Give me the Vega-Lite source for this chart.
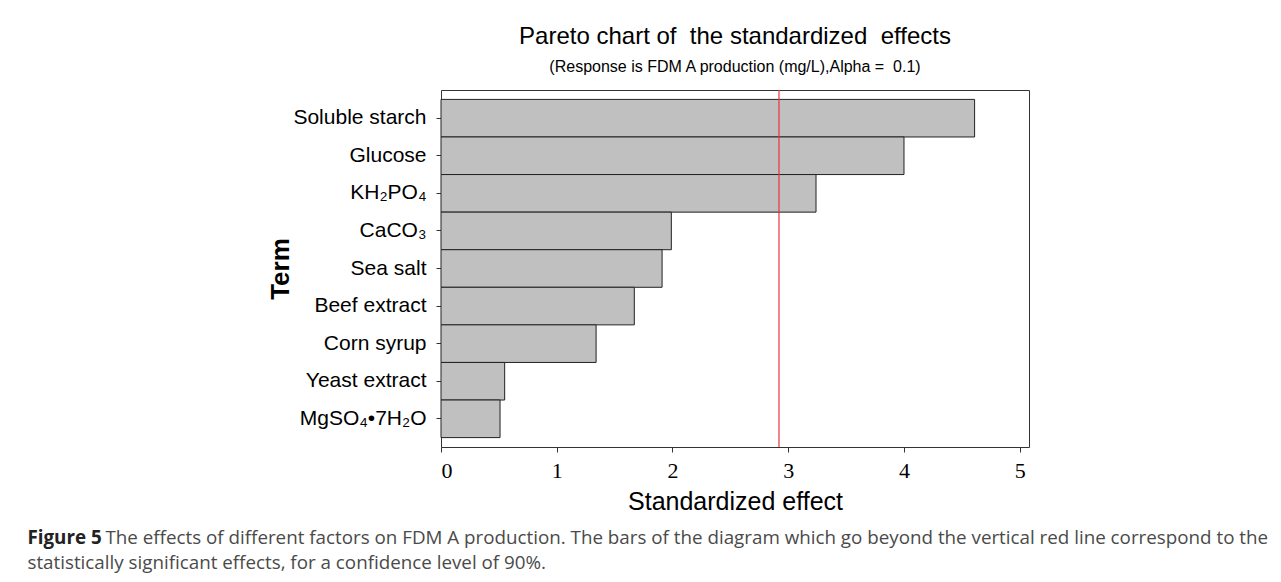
{
  "$schema": "https://vega.github.io/schema/vega-lite/v6.json",
  "background": "white",
  "autosize": {"type": "pad"},
  "padding": {"left": 27, "top": 24, "right": 5, "bottom": 5},
  "title": {
    "text": "Figure 5",
    "orient": "bottom",
    "anchor": "start",
    "frame": "bounds",
    "dx": -240,
    "offset": 14,
    "font": "Open Sans",
    "fontSize": 18.8,
    "fontWeight": "bold",
    "color": "#222222",
    "subtitle": [
      "\u200b\u00a0\u00a0\u00a0\u00a0\u00a0\u00a0\u00a0\u00a0\u00a0\u00a0\u00a0\u00a0\u00a0\u00a0\u00a0\u00a0The effects of different factors on FDM A production. The bars of the diagram which go beyond the vertical red line correspond to the",
      "statistically significant effects, for a confidence level of 90%."
    ],
    "subtitleFont": "Open Sans",
    "subtitleFontSize": 18.8,
    "subtitleColor": "#4a4a4a",
    "subtitlePadding": -18.8,
    "subtitleLineHeight": 25
  },
  "config": {
    "view": {"stroke": "#333333", "strokeWidth": 1},
    "axis": {"grid": false, "domain": false, "tickColor": "#333333", "tickSize": 5, "labelColor": "#000000", "titleColor": "#000000"}
  },
  "vconcat": [
    {
      "width": 588,
      "height": 357,
      "title": {
        "text": "Pareto chart of \u00a0the standardized \u00a0effects",
        "subtitle": "(Response is FDM A production (mg/L),Alpha = \u00a00.1)",
        "anchor": "middle",
        "font": "Liberation Sans",
        "fontSize": 24,
        "fontWeight": "normal",
        "color": "#000000",
        "subtitleFont": "Liberation Sans",
        "subtitleFontSize": 16,
        "subtitleColor": "#000000",
        "subtitlePadding": 10,
        "offset": 14
      },
      "layer": [
        {
          "data": {
            "values": [
              {"term": "Soluble starch", "effect": 4.61},
              {"term": "Glucose", "effect": 4.0},
              {"term": "KH₂PO₄", "effect": 3.24},
              {"term": "CaCO₃", "effect": 1.99},
              {"term": "Sea salt", "effect": 1.91},
              {"term": "Beef extract", "effect": 1.67},
              {"term": "Corn syrup", "effect": 1.34},
              {"term": "Yeast extract", "effect": 0.55},
              {"term": "MgSO₄•7H₂O", "effect": 0.51}
            ]
          },
          "mark": {"type": "bar", "fill": "#c0c0c0", "stroke": "#222222", "strokeWidth": 1},
          "encoding": {
            "y": {
              "field": "term",
              "type": "nominal",
              "sort": null,
              "scale": {"paddingInner": 0, "paddingOuter": 0.25},
              "title": "Term",
              "axis": {
                "labelFont": "Liberation Sans",
                "labelFontSize": 21,
                "labelPadding": 10,
                "titleFont": "Liberation Sans",
                "titleFontSize": 26,
                "titleFontWeight": "bold",
                "titlePadding": -1
              }
            },
            "x": {
              "field": "effect",
              "type": "quantitative",
              "scale": {"domain": [0, 5.08], "nice": false, "zero": true},
              "title": "Standardized effect",
              "axis": {
                "values": [0, 1, 2, 3, 4, 5],
                "format": "d",
                "labelFont": "Liberation Serif",
                "labelFontSize": 22,
                "labelPadding": 8,
                "titleFont": "Liberation Sans",
                "titleFontSize": 25,
                "titleFontWeight": "normal",
                "titlePadding": 8
              }
            }
          }
        },
        {
          "data": {"values": [{"critical": 2.92}]},
          "mark": {"type": "rule", "color": "#e8363a", "strokeWidth": 1.2},
          "encoding": {
            "x": {"field": "critical", "type": "quantitative"}
          }
        }
      ]
    }
  ]
}
